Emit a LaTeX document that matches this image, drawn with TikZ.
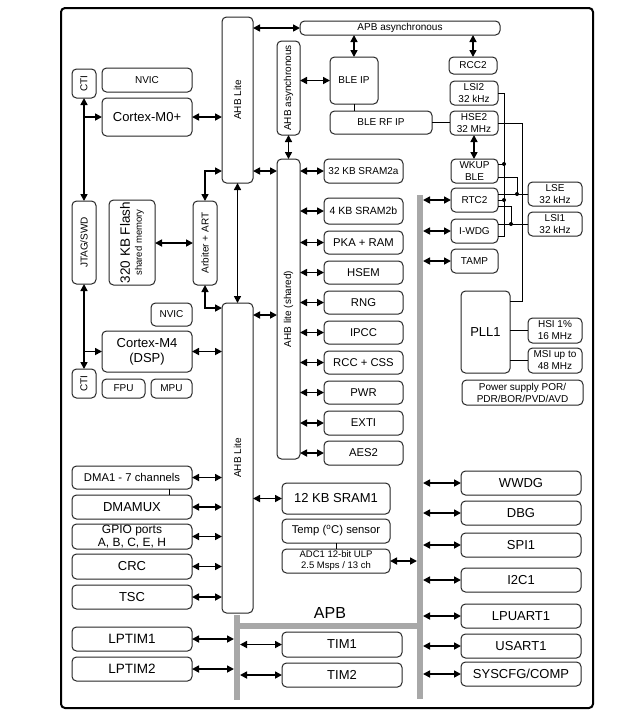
\documentclass[tikz,border=0pt]{standalone}
\usepackage{fontspec}
\setmainfont{Liberation Sans}
\usetikzlibrary{arrows.meta,calc}
\definecolor{busgray}{RGB}{168,168,168}
\newcommand\bx[7][]{\node[box,minimum width={#5-#3},minimum height={#6-#4},#1] (#2) at ({(#3+#5)/2},{(#4+#6)/2}) {#7};}
\begin{document}
\begin{tikzpicture}[x=1pt,y=-1pt,
  box/.style={draw=black!85, line width=1pt, rounded corners=4.5pt, inner sep=0pt, outer sep=0pt, align=center, fill=white},
  bus/.style={draw=none, fill=busgray, sharp corners},
  f9/.style={font=\fontsize{9.5}{11}\selectfont},
  f10/.style={font=\fontsize{10}{12}\selectfont},
  f105/.style={font=\fontsize{10.5}{12}\selectfont},
  f11/.style={font=\fontsize{11.3}{13}\selectfont},
  f12/.style={font=\fontsize{12}{13.5}\selectfont},
  f13/.style={font=\fontsize{13}{15}\selectfont},
  f135/.style={font=\fontsize{13.5}{15}\selectfont},
  f16/.style={font=\fontsize{16}{18}\selectfont},
  rt/.style={rotate=90, inner sep=0pt},
  ar/.style={line width=1.6pt, {Triangle[length=7pt,width=7pt]}-{Triangle[length=7pt,width=7pt]}},
  arr/.style={line width=1.6pt, -{Triangle[length=7pt,width=7pt]}},
  wire/.style={line width=0.8pt},
  dot/.style={circle, fill=black, inner sep=0pt, minimum size=4pt}]
\useasboundingbox (0,0) rectangle (619,724);
\draw[line width=2pt, rounded corners=4pt] (61,8) rectangle (593,708);

% buses
\bx[bus]{busR}{417}{195}{423}{699}{}
\bx[bus]{busL}{234}{615}{240}{700}{}
\bx[bus]{busH}{240}{623}{417}{629}{}
\node[f16] (apb) at (330,613) {APB};

% AHB bars
\bx{ahbA}{222}{17}{253}{183}{} \node[rt,f10] at (ahbA) {AHB Lite};
\bx{ahbB}{222}{303}{253}{613}{} \node[rt,f10] at (ahbB) {AHB Lite};
\bx{ahbS}{277}{159}{300}{459}{} \node[rt,f10] at (ahbS) {AHB lite (shared)};
\bx{ahbAs}{277}{41}{300}{135}{} \node[rt,f10] at (ahbAs) {AHB asynchronous};
\bx[f10]{apbAs}{300}{21}{500}{35}{APB asynchronous}

% BLE / clocks
\bx[f10]{bleip}{330}{57}{378}{104}{BLE IP}
\bx[f10]{blerf}{330}{111}{432}{134}{BLE RF IP}
\bx[f10]{rcc2}{449}{57}{497}{74}{RCC2}
\bx[f10]{lsi2}{450}{81}{498}{105}{LSI2\\32 kHz}
\bx[f10]{hse2}{450}{111}{498}{135}{HSE2\\32 MHz}
\bx[f10]{wkup}{451}{159}{498}{183}{WKUP\\BLE}
\bx[f10]{rtc2}{451}{188}{498}{212}{RTC2}
\bx[f10]{iwdg}{451}{219}{498}{243}{I-WDG}
\bx[f10]{tamp}{451}{249}{498}{273}{TAMP}
\bx[f10]{lse}{528}{182}{582}{206}{LSE\\32 kHz}
\bx[f10]{lsi1}{528}{212}{582}{236}{LSI1\\32 kHz}
\bx[f13]{pll1}{461}{291}{510}{373}{PLL1}
\bx[f10]{hsi}{528}{318}{582}{343}{HSI 1\%\\16 MHz}
\bx[f10]{msi}{528}{348}{582}{373}{MSI up to\\48 MHz}
\bx[f10]{pwrs}{462}{380}{583}{405}{Power supply POR/\\PDR/BOR/PVD/AVD}

% cores
\bx[f10]{nvic1}{102}{68}{192}{92}{NVIC}
\bx[f13]{m0}{102}{98}{192}{136}{Cortex-M0+}
\bx{cti1}{72}{69}{96}{98}{} \node[rt,f10] at (cti1) {CTI};
\bx{jtag}{72}{201}{96}{284}{} \node[rt,f10] at (jtag) {JTAG/SWD};
\bx{flash}{109}{200}{155}{285}{} \node[rt,align=center] at (flash) {{\fontsize{13.5}{15}\selectfont 320 KB Flash}\\[0pt]{\fontsize{9.5}{11}\selectfont shared memory}};
\bx{arb}{193}{201}{217}{285}{} \node[rt,f10] at (arb) {Arbiter + ART};
\bx[f10]{nvic2}{151}{303}{192}{326}{NVIC}
\bx[f13]{m4}{102}{331}{192}{372}{Cortex-M4\\(DSP)}
\bx{cti2}{72}{369}{96}{398}{} \node[rt,f10] at (cti2) {CTI};
\bx[f10]{fpu}{102}{379}{145}{398}{FPU}
\bx[f10]{mpu}{151}{379}{192}{398}{MPU}

% shared AHB peripherals
\bx[f10]{sram2a}{324}{159}{403}{183}{32 KB SRAM2a}
\bx[f105]{sram2b}{324}{198}{403}{224}{4 KB SRAM2b}
\bx[f11]{pka}{324}{231}{403}{254}{PKA + RAM}
\bx[f11]{hsem}{324}{261}{403}{284}{HSEM}
\bx[f11]{rng}{324}{291}{403}{314}{RNG}
\bx[f11]{ipcc}{324}{321}{403}{344}{IPCC}
\bx[f11]{rcccss}{324}{351}{403}{374}{RCC + CSS}
\bx[f11]{pwr}{324}{381}{403}{404}{PWR}
\bx[f11]{exti}{324}{411}{403}{435}{EXTI}
\bx[f11]{aes2}{324}{441}{403}{465}{AES2}

% middle
\bx[f13]{sram1}{282}{483}{390}{514}{12 KB SRAM1}
\bx[f11]{temp}{282}{519}{390}{543}{Temp (\textsuperscript{o}C) sensor}
\bx[f9]{adc}{282}{549}{390}{573}{ADC1 12-bit ULP\\2.5 Msps / 13 ch}
\bx[f13]{tim1}{282}{632}{402}{657}{TIM1}
\bx[f13]{tim2}{282}{663}{402}{687}{TIM2}

% left
\bx[f11]{dma}{72}{466}{192}{489}{DMA1 - 7 channels}
\bx[f13]{dmamux}{72}{495}{192}{519}{DMAMUX}
\bx[f12]{gpio}{72}{524}{192}{549}{GPIO ports\\A, B, C, E, H}
\bx[f13]{crc}{72}{554}{192}{579}{CRC}
\bx[f13]{tsc}{72}{585}{192}{609}{TSC}
\bx[f135]{lptim1}{72}{627}{192}{651}{LPTIM1}
\bx[f135]{lptim2}{72}{657}{192}{681}{LPTIM2}

% right APB
\bx[f13]{wwdg}{461}{471}{581}{495}{WWDG}
\bx[f13]{dbg}{461}{501}{581}{525}{DBG}
\bx[f13]{spi1}{461}{533}{581}{557}{SPI1}
\bx[f13]{i2c1}{461}{568}{581}{592}{I2C1}
\bx[f13]{lpuart}{461}{604}{581}{628}{LPUART1}
\bx[f13]{usart}{461}{634}{581}{658}{USART1}
\bx[f13]{syscfg}{461}{662}{581}{686}{SYSCFG/COMP}

% ---- connectors ----
\draw[ar] ($(ahbA.north east)+(0,11)$) -- (apbAs.west);
\draw[ar] (bleip.north) -- (bleip.north |- apbAs.south);
\draw[ar] (rcc2.north) -- (rcc2.north |- apbAs.south);
\draw[ar] (ahbAs.east |- bleip.west) -- (bleip.west);
\draw[wire] (bleip.south) -- (bleip.south |- blerf.north);
\draw[wire] (blerf.east) -- (hse2.west |- blerf.east);
\draw[ar] (hse2.south) -- (hse2.south |- wkup.north);
\draw[ar] (ahbAs.south) -- (ahbAs.south |- ahbS.north);

\draw[ar] (m0.east) -- (m0.east -| ahbA.west);
\draw[ar] (cti1.south) -- (jtag.north);
\draw[arr] (cti1.south |- m0.west) -- (m0.west);
\draw[ar] (jtag.south) -- (cti2.north);
\draw[arr] (jtag.south |- m4.west) -- (m4.west);
\draw[ar] (m4.east) -- (m4.east -| ahbB.west);
\draw[ar] (flash.east |- arb.west) -- (arb.west);
\draw[ar] (arb.north) |- (ahbA.west |- sram2a.west);
\draw[ar] (arb.south) |- ($(ahbB.north west)+(0,5)$);
\draw[ar] (ahbA.south) -- (ahbA.south |- ahbB.north);
\draw[ar] (ahbA.east |- sram2a.west) -- (ahbS.west |- sram2a.west);
\draw[ar] ($(ahbB.north east)+(0,12)$) -- ($(ahbB.north east)+(24,12)$);

\foreach \p in {sram2a,sram2b,pka,hsem,rng,ipcc,rcccss,pwr,exti,aes2}
  \draw[ar] (ahbS.east |- \p.west) -- (\p.west);

\draw[ar] (sram1.west -| ahbB.east) -- (sram1.west);
\draw[wire] (temp.south) -- (adc.north);
\draw[ar] (adc.east) -- (adc.east -| busR.west);
\draw[wire] ($(dma.south)+(37,0)$) -- ($(dmamux.north)+(37,0)$);
\foreach \p in {dma,dmamux,gpio,crc,tsc}
  \draw[ar] (\p.east) -- (\p.east -| ahbB.west);
\foreach \p in {lptim1,lptim2}
  \draw[ar] (\p.east) -- (\p.east -| busL.west);
\foreach \p in {tim1,tim2}
  \draw[ar] (\p.west -| busL.east) -- (\p.west);
\foreach \p in {rtc2,iwdg,tamp,wwdg,dbg,spi1,i2c1,lpuart,usart,syscfg}
  \draw[ar] (\p.west -| busR.east) -- (\p.west);

% clock wiring
\draw[wire] (lsi2.east) -- ++(6,0) coordinate (vL) |- ($(iwdg.south east)+(0,-7)$);
\draw[wire] ($(wkup.north east)+(0,5)$) -- (vL |- {$(wkup.north east)+(0,5)$}) node[dot] {};
\draw[wire] (rtc2.east) -- (vL |- rtc2.east) node[dot] {};
\draw[wire] (hse2.east) -| ($(pll1.north east)+(12,10)$) -- ($(pll1.north east)+(0,10)$);
\draw[wire] ($(wkup.south east)+(0,-6)$) -| ($(rtc2.east |- lse.west)+(19,0)$) node[dot] {};
\draw[wire] (rtc2.east |- lse.west) -- (lse.west);
\draw[wire] ($(rtc2.east)+(0,6)$) -| ($(iwdg.east |- lsi1.west)+(13,0)$) node[dot] {};
\draw[wire] (iwdg.east |- lsi1.west) -- (lsi1.west);
\draw[wire] (pll1.east |- hsi.west) -- (hsi.west);
\draw[wire] (pll1.east |- msi.west) -- (msi.west);
\end{tikzpicture}
\end{document}
